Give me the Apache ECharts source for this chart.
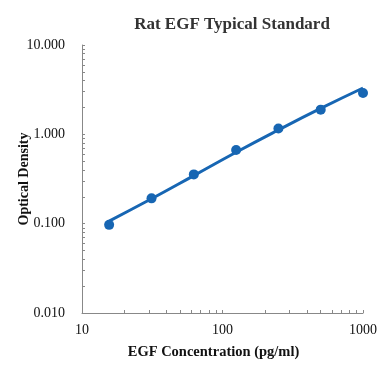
<!DOCTYPE html>
<html><head><meta charset="utf-8">
<script src="https://cdn.jsdelivr.net/npm/echarts@6/dist/echarts.min.js"></script>
<style>html,body{margin:0;padding:0;background:#fff}#c{width:388px;height:389px}</style>
</head><body><div id="c"></div>
<script>
const concentrations = [15.6, 31.25, 62.5, 125, 250, 500, 1000];
const odValues = [0.097, 0.192, 0.356, 0.668, 1.16, 1.89, 2.9];
const fitValues = [0.107, 0.19, 0.345, 0.63, 1.12, 1.95, 3.3];
const xTicks = [10,20,30,40,50,60,70,80,90,100,200,300,400,500,600,700,800,900,1000];
const yTicks = [0.01,0.02,0.03,0.04,0.05,0.06,0.07,0.08,0.09,0.1,0.2,0.3,0.4,0.5,0.6,0.7,0.8,0.9,1,2,3,4,5,6,7,8,9,10];
const font = '"Liberation Serif","Times New Roman",serif';
const chart = echarts.init(document.getElementById('c'));
chart.setOption({
  animation:false,
  title:{text:'Rat EGF Typical Standard',left:227,textAlign:'center',top:11,textStyle:{fontFamily:font,fontWeight:'bold',fontSize:17,color:'#333'}},
  grid:{left:82,right:25,top:45,bottom:76,outerBoundsMode:'none',containLabel:false},
  xAxis:{type:'log',logBase:10,min:10,max:1000,
    name:'EGF Concentration (pg/ml)',nameLocation:'middle',nameGap:32,nameMoveOverlap:false,
    nameTextStyle:{fontFamily:font,fontWeight:'bold',fontSize:14.5,color:'#111',padding:[0,18,0,0]},
    axisLine:{lineStyle:{color:'#888'}},
    axisTick:{inside:true,length:3,lineStyle:{color:'#888'},customValues:xTicks},
    axisLabel:{fontFamily:font,fontSize:14,color:'#111',margin:10,formatter:v=>String(Math.round(v))},
    splitLine:{show:false}},
  yAxis:{type:'log',logBase:10,min:0.01,max:10,
    name:'Optical Density',nameLocation:'middle',nameGap:51,nameMoveOverlap:false,
    nameTextStyle:{fontFamily:font,fontWeight:'bold',fontSize:14,color:'#111'},
    axisLine:{show:true,lineStyle:{color:'#888'}},
    axisTick:{show:true,inside:true,length:3,lineStyle:{color:'#888'},customValues:yTicks},
    axisLabel:{fontFamily:font,fontSize:14,color:'#111',margin:17,formatter:v=>Number(v).toFixed(3)},
    splitLine:{show:false}},
  series:[
    {type:'line',data:concentrations.map((c,i)=>[c,fitValues[i]]),smooth:true,symbol:'none',
     lineStyle:{color:'#1766b3',width:3},z:2},
    {type:'scatter',data:concentrations.map((c,i)=>[c,odValues[i]]),symbolSize:10,
     itemStyle:{color:'#1766b3',opacity:1},z:3}
  ]
});
</script></body></html>
